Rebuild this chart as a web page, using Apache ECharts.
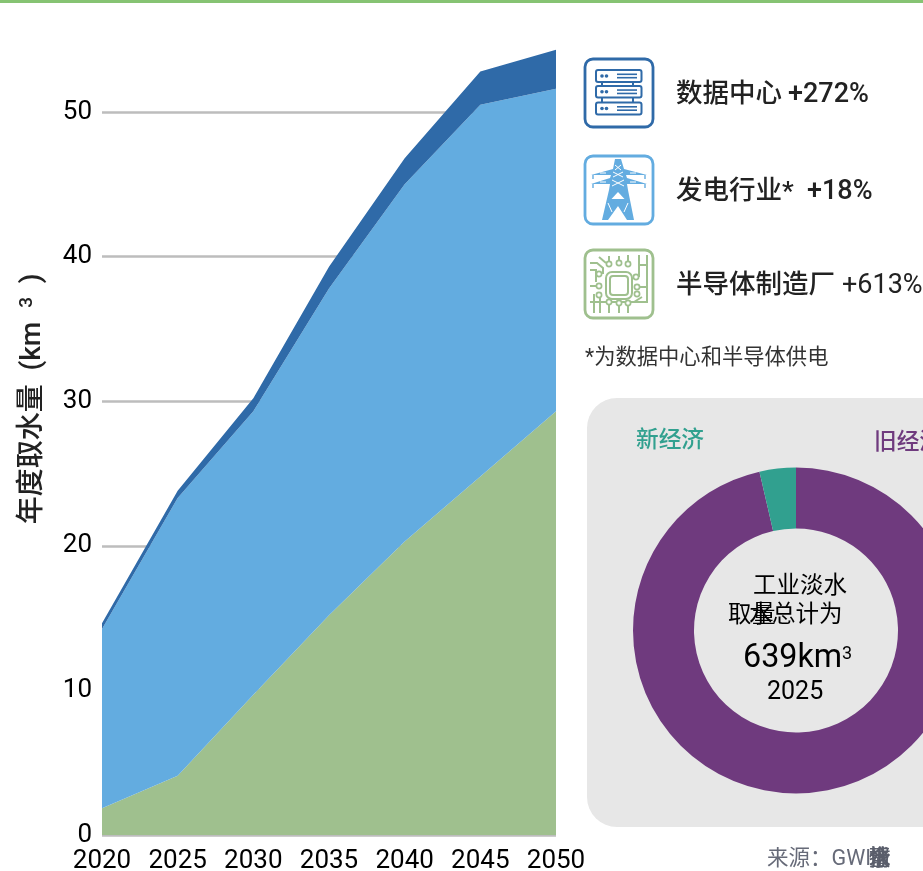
<!DOCTYPE html>
<html><head><meta charset="utf-8">
<style>html,body{margin:0;padding:0;background:#fff}#c{width:923px;height:871px}</style>
<script src="https://cdn.jsdelivr.net/npm/echarts@6/dist/echarts.min.js"></script>
</head><body><div id="c"></div>
<script>
const years = ['2020','2025','2030','2035','2040','2045','2050'];
const semiconductor = [1.85, 4.1, 9.7, 15.2, 20.3, 24.8, 29.3];
const powerSector = [12.4, 19.2, 19.6, 22.6, 24.7, 25.7, 22.3];
const dataCentres = [0.4, 0.5, 0.9, 1.5, 1.8, 2.3, 2.7];
const donutNames = ['旧经济', '新经济'];
const donutValues = [616, 23];

const FONT = 'Roboto, "Noto Sans CJK SC", sans-serif';
const DARK = '#2f6aa8', LIGHT = '#63ace0', GREEN = '#9fc08e', PURPLE = '#6f3a7e', TEAL = '#31a08f';

const chart = echarts.init(document.getElementById('c'));
const g = [];
const rect = (x, y, w, h, r, fill, stroke, lw) => g.push({type:'rect', silent:true, shape:{x, y, width:w, height:h, r},
  style:{fill: fill || 'none', stroke: stroke || 'none', lineWidth: lw || 0}});
const text = (x, y, t, size, color, extra) => g.push({type:'text', silent:true, x, y,
  style:Object.assign({text:t, fontFamily:FONT, fontSize:size, fill:color, verticalAlign:'middle'}, extra||{})});
const pts = run => { const n = run.trim().split(/\s+/).map(Number), p = [];
  for (let i = 0; i < n.length; i += 2) p.push([n[i], n[i+1]]); return p; };
// small icon strokes: "x y x y ..." runs separated by commas
const lines = (spec, stroke, lw) => spec.split(',').forEach(run =>
  g.push({type:'polyline', silent:true, shape:{points:pts(run)}, style:{fill:'none', stroke, lineWidth:lw}}));
const poly = (spec, fill) => g.push({type:'polygon', silent:true, shape:{points:pts(spec)}, style:{fill}});
const circ = (cx, cy, r, fill, stroke, lw) => g.push({type:'circle', silent:true, shape:{cx, cy, r},
  style:{fill: fill||'none', stroke: stroke||'none', lineWidth: lw||0}});

// top rule
rect(0, 0, 923, 3, 0, '#86c373');
// grey panel, kept behind the donut
g.push({type:'rect', z:-1, silent:true, shape:{x:587, y:398, width:380, height:429, r:30}, style:{fill:'#e7e7e7'}});

// icon 1: servers
rect(585, 59, 68, 68, 8, '#fff', DARK, 2.8);
[[596,70,12],[596,86,11.5],[596,102.5,12]].forEach(([x,y,h]) => {
  rect(x, y, 45.5, h, 2, 'none', DARK, 2);
  circ(x+6, y+h/2, 1.8, DARK); circ(x+10.5, y+h/2, 1.8, DARK);
  lines(`${x+21} ${y+h/2-1.7} ${x+41} ${y+h/2-1.7},${x+21} ${y+h/2+1.7} ${x+41} ${y+h/2+1.7}`, DARK, 1.6);
});
lines('602 82 602 86,633 82 633 86,602 97.5 602 102.5,633 97.5 633 102.5', DARK, 2);

// icon 2: pylon
rect(585, 156, 68, 68, 8, '#fff', LIGHT, 2.8);
poly('615 159 621 159 624 169 647 175 626 175 627 178 647 184 627 184 628 190 634 220 627 220 618 206 608 220 602 220 609 190 610 184 591 184 610 178 611 175 591 175 613 169', LIGHT);
lines('593 175 593 179,645 175 645 179,593 184 593 188,645 184 645 188', LIGHT, 1.4);
poly('618 192 611.5 199 624.5 199', '#fff');
lines('615 165 621 170,621 165 615 170,613 172 623 177,623 172 613 177,612 180 624 186,624 180 612 186,600 173 606 173,630 173 636 173,600 182 606 182,630 182 636 182,608 203 612 212,628 203 624 212', '#fff', 1);
poly('611 199 625 199 618 206.5', LIGHT);

// icon 3: chip
rect(585, 250, 68, 68, 8, '#fff', GREEN, 2.8);
rect(606, 272, 26, 27, 6, 'none', GREEN, 2);
rect(610, 276, 18, 19, 3, 'none', GREEN, 2);
lines('590 263 597 263 603 268 603 274,590 270 596 270 596 282,599 257 606 263,609 256 609 262,619 256 619 261,628 255 628 262,639 255 639 277,647 255 647 302,639 265 647 265,590 286 597 286,639 287 648 287,594 294 594 313,590 302 648 302,600 297 600 313,609 302 609 313,619 304 619 313,628 304 628 313,634 302 642 297', GREEN, 2);
[[599,274],[599,286],[599,295],[636,277],[637,287],[637,294],[609,264],[619,263],[628,264],[609,302],[619,303],[628,303]].forEach(([x,y]) => circ(x, y, 2.6, '#fff', GREEN, 1.7));

// legend rows
const INK = '#222';
const medium = {fontWeight:500};
text(676, 95, '数据中心', 26.5, INK, medium);
text(788, 95, '+272%', 27, INK, medium);
text(676, 192, '发电行业*', 26.5, INK, medium);
text(807, 192, '+18%', 27, INK, medium);
text(676, 286, '半导体制造厂', 26.5, INK, medium);
text(842, 286, '+613%', 27, INK);
text(585, 359, '*为数据中心和半导体供电', 21.3, '#333');

// donut labels
text(636, 441, donutNames[1], 22.7, TEAL, medium);
text(874, 443, donutNames[0], 22.7, PURPLE, medium);

// donut centre, including the colliding characters of the source layout
text(753, 587, '工业淡水', 23.5, '#000');
text(728, 616, '取', 23.5, '#000');
text(749, 616, '水', 23.5, '#000');
text(752, 616, '量', 23.5, '#000');
text(772, 616, '总计为', 23.5, '#000');
text(743, 659, '639km', 32.3, '#000');
text(842, 654, '3', 18, '#000');
text(767, 693, '2025', 25, '#000');

// source line, with its colliding trailing characters
text(767, 860, '来源：GWI', 21.5, '#666a78');
['全','球','水','情','报'].forEach(ch => text(869, 860, ch, 21.5, '#5a5e6b'));

const areaSeries = (name, data, color) => ({
  name, type:'line', stack:'w', data, symbol:'none', smooth:false,
  lineStyle:{width:0}, areaStyle:{color, opacity:1}, itemStyle:{color}, silent:true
});

chart.setOption({
  animation:false,
  backgroundColor:'#fff',
  grid:{left:102, right:367, top:39.7, bottom:36, outerBoundsMode:'none'},
  xAxis:{type:'category', data:years, boundaryGap:false,
    axisLine:{show:false}, axisTick:{show:false},
    axisLabel:{color:'#000', fontFamily:FONT, fontSize:26, margin:13, interval:0, hideOverlap:false}},
  yAxis:{type:'value', min:0, max:55, interval:10,
    name:'年度取水量  (km  {s|3}  )', nameLocation:'middle', nameRotate:90, nameGap:54,
    nameTextStyle:{color:'#222', fontFamily:FONT, fontSize:28, fontWeight:500, padding:[0,0,0,77],
      rich:{s:{fontSize:19, fontFamily:FONT, color:'#222', verticalAlign:'top', lineHeight:30}}},
    axisLine:{show:false}, axisTick:{show:false},
    axisLabel:{color:'#000', fontFamily:FONT, fontSize:26, margin:10, showMaxLabel:false, padding:[2,0,0,0]},
    splitLine:{show:true, showMaxLine:false, lineStyle:{color:'#bdbdbd', width:2.6}}},
  series:[
    areaSeries('半导体制造厂', semiconductor, GREEN),
    areaSeries('发电行业', powerSector, LIGHT),
    areaSeries('数据中心', dataCentres, DARK),
    {type:'pie', center:[796,630.5], radius:[102,163], startAngle:90, clockwise:true, silent:true,
     label:{show:false}, labelLine:{show:false},
     data:donutNames.map((name,i)=>({name, value:donutValues[i], itemStyle:{color:i?TEAL:PURPLE}}))}
  ],
  graphic:g
});
</script></body></html>
